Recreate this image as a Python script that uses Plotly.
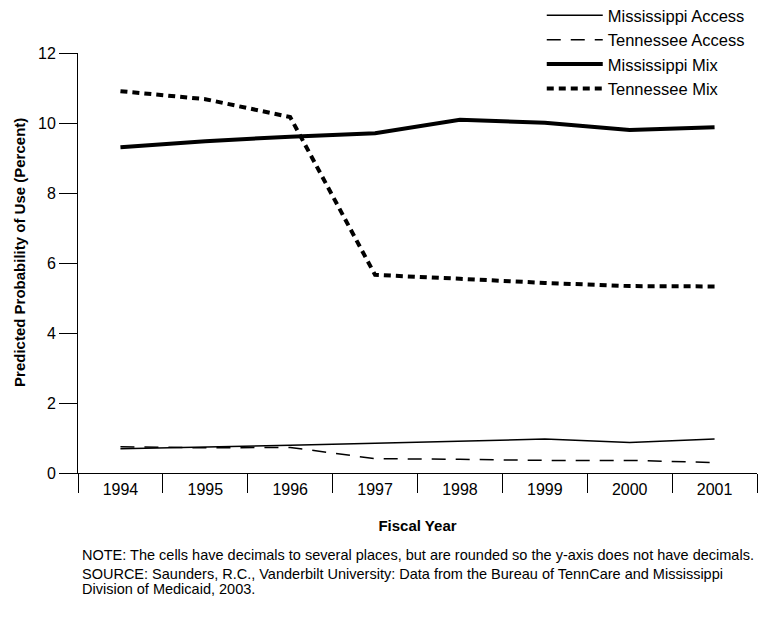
import plotly.graph_objects as go

years = ["1994", "1995", "1996", "1997", "1998", "1999", "2000", "2001"]
ms_access = [0.69, 0.73, 0.79, 0.85, 0.91, 0.97, 0.87, 0.97]
tn_access = [0.75, 0.72, 0.73, 0.41, 0.39, 0.36, 0.36, 0.30]
ms_mix = [9.31, 9.48, 9.61, 9.71, 10.09, 10.01, 9.80, 9.88]
tn_mix = [10.91, 10.68, 10.17, 5.66, 5.55, 5.43, 5.34, 5.33]

FONT = "Liberation Sans, Arial, Helvetica, sans-serif"

fig = go.Figure()
fig.add_trace(go.Scatter(x=years, y=ms_access, mode="lines", name="Mississippi Access",
                         line=dict(color="black", width=1.5)))
fig.add_trace(go.Scatter(x=years, y=tn_access, mode="lines", name="Tennessee Access",
                         line=dict(color="black", width=1.5, dash="14px,10px")))
fig.add_trace(go.Scatter(x=years, y=ms_mix, mode="lines", name="Mississippi Mix",
                         line=dict(color="black", width=4)))
fig.add_trace(go.Scatter(x=years, y=tn_mix, mode="lines", name="Tennessee Mix",
                         line=dict(color="black", width=4, dash="7px,5px")))

fig.update_layout(
    width=765, height=619,
    margin=dict(l=78, r=8, t=53, b=146, autoexpand=False),
    paper_bgcolor="white", plot_bgcolor="white",
    font=dict(family=FONT, color="black", size=15),
    showlegend=True,
    legend=dict(x=0.683, y=1.131, xanchor="left", yanchor="top",
                font=dict(size=16.5), itemwidth=56, bgcolor="rgba(0,0,0,0)"),
    xaxis=dict(type="category", categoryorder="array", categoryarray=years,
               range=[-0.5, 7.5], showline=True, linecolor="black", linewidth=1,
               ticks="outside", tickson="boundaries", ticklen=19, tickcolor="black",
               tickwidth=1, showgrid=False, zeroline=False, ticklabelstandoff=2,
               tickfont=dict(size=16), automargin=False,
               title=dict(text="<b>Fiscal Year</b>", font=dict(size=15), standoff=23)),
    yaxis=dict(range=[0, 12], dtick=2, tick0=0, showline=True, linecolor="black",
               linewidth=1, ticks="outside", ticklen=18, tickcolor="black", tickwidth=1,
               showgrid=False, zeroline=False, tickfont=dict(size=16), automargin=False),
    annotations=[
        dict(text="<b>Predicted Probability of Use (Percent)</b>", textangle=-90,
             xref="paper", yref="paper", x=-0.0854, y=0.524, xanchor="center",
             yanchor="middle", showarrow=False, font=dict(size=15)),
        dict(text="NOTE: The cells have decimals to several places, but are rounded so the y-axis does not have decimals.",
             xref="paper", yref="paper", x=0.003, y=-0.1952, xanchor="left", yanchor="middle",
             showarrow=False, font=dict(size=14.5), align="left"),
        dict(text="SOURCE: Saunders, R.C., Vanderbilt University: Data from the Bureau of TennCare and Mississippi",
             xref="paper", yref="paper", x=0.003, y=-0.2393, xanchor="left", yanchor="middle",
             showarrow=False, font=dict(size=14.5), align="left"),
        dict(text="Division of Medicaid, 2003.",
             xref="paper", yref="paper", x=0.003, y=-0.275, xanchor="left", yanchor="middle",
             showarrow=False, font=dict(size=14.5), align="left"),
    ],
)

fig.write_html("out.html", config={"displayModeBar": False},
               post_script="document.body.style.margin='0px';")
